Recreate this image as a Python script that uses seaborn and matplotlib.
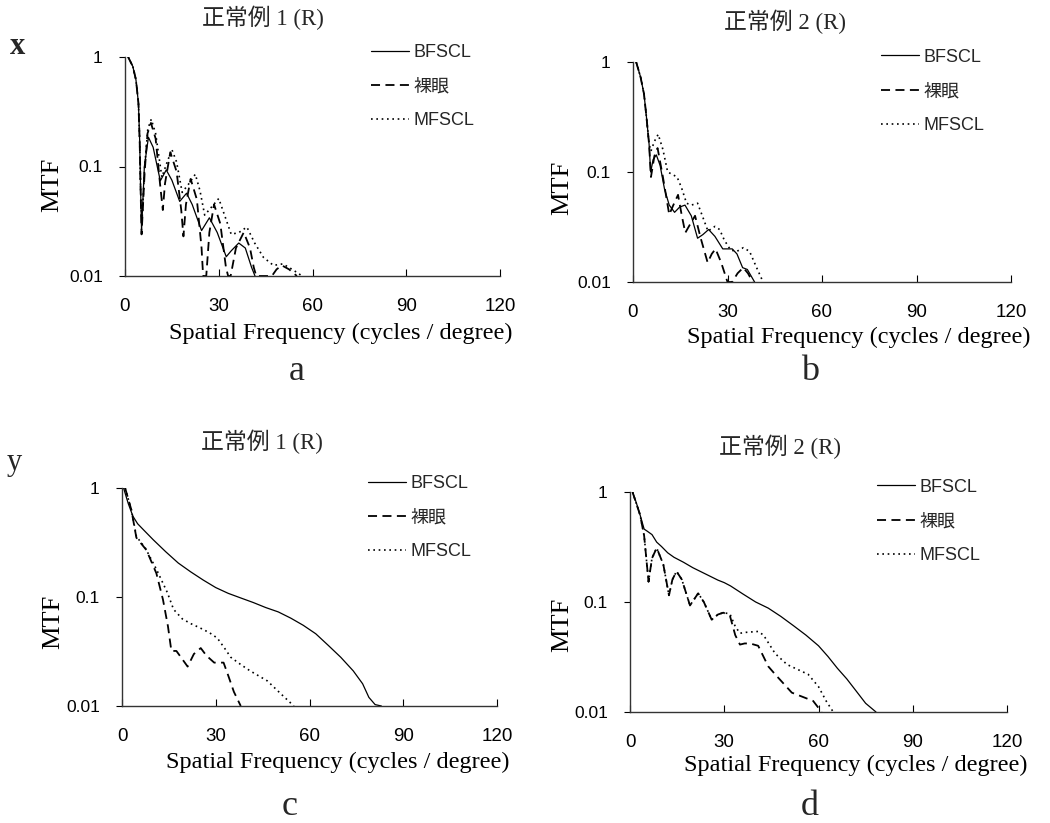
import matplotlib
matplotlib.use('Agg')
import matplotlib.pyplot as plt
import seaborn as sns
from matplotlib.ticker import NullLocator
from matplotlib.font_manager import FontProperties

# ---- data ----
labels = ['BFSCL', '裸眼', 'MFSCL']
x_ticks = [0, 30, 60, 90, 120]
y_ticks = [0.01, 0.1, 1]
y_ticklabels = ['0.01', '0.1', '1']
titles = ['正常例 1 (R)', '正常例 2 (R)', '正常例 1 (R)', '正常例 2 (R)']
letters = ['a', 'b', 'c', 'd']

# panel a
a_bfscl_f = [1, 2.5, 3.5, 4.3, 4.7, 5.0, 5.3, 6.2, 7.5, 9.0, 11.3, 13.2, 15.0, 17.5, 19.7, 21.5,
             24.5, 27.0, 29.5, 32.4, 34.0, 36.4, 38.5, 40.5, 41.6]
a_bfscl_v = [1, 0.82, 0.62, 0.38, 0.17, 0.06, 0.026, 0.1, 0.185, 0.15, 0.074, 0.093, 0.075, 0.048,
             0.057, 0.045, 0.026, 0.034, 0.025, 0.015, 0.017, 0.02, 0.018, 0.012, 0.01]
a_naked_f = [1, 2.5, 3.5, 4.3, 4.7, 5.0, 5.3, 6.3, 7.2, 8.3, 9.8, 11.2, 12.1, 12.8, 14.5, 16.5, 18.0,
             18.7, 19.5, 21.0, 23.0, 24.5, 25.0, 26.0, 27.0, 28.5, 30.5, 32.3, 33.0, 33.8, 35.5,
             38.0, 40.0, 41.2, 42.0, 47.0, 48.5, 50.2, 52.5, 55.0]
a_naked_v = [1, 0.82, 0.62, 0.38, 0.17, 0.06, 0.024, 0.09, 0.2, 0.25, 0.18, 0.07, 0.04, 0.07, 0.135,
             0.09, 0.04, 0.023, 0.045, 0.077, 0.05, 0.018, 0.01, 0.01, 0.025, 0.045, 0.03, 0.012,
             0.01, 0.01, 0.018, 0.025, 0.018, 0.012, 0.01, 0.01, 0.0115, 0.0125, 0.0115, 0.01]
a_mfscl_f = [1, 2.5, 3.5, 4.3, 4.7, 5.0, 5.4, 6.3, 7.3, 8.4, 9.8, 11.8, 13.5, 15.0, 16.5, 18.3, 20.5,
             22.5, 24.0, 25.5, 27.5, 30.0, 32.0, 34.0, 36.5, 39.0, 41.5, 44.3, 47.5, 50.5, 53.5, 56.7]
a_mfscl_v = [1, 0.82, 0.62, 0.38, 0.17, 0.06, 0.03, 0.1, 0.22, 0.27, 0.2, 0.08, 0.11, 0.143, 0.11,
             0.058, 0.07, 0.085, 0.06, 0.036, 0.042, 0.051, 0.035, 0.024, 0.025, 0.028, 0.02,
             0.0148, 0.0125, 0.0129, 0.0115, 0.01]

# panel b
b_bfscl_f = [1, 2.4, 3.5, 4.3, 5.1, 5.6, 6.4, 7.4, 8.6, 10.0, 11.5, 13.2, 14.8, 16.5, 18.5, 20.5,
             22.2, 24.0, 26.0, 28.5, 31.5, 33.0, 34.8, 36.3, 38.6]
b_bfscl_v = [1, 0.73, 0.51, 0.31, 0.18, 0.1, 0.13, 0.143, 0.115, 0.07, 0.05, 0.043, 0.048, 0.05,
             0.04, 0.025, 0.027, 0.03, 0.026, 0.02, 0.02, 0.018, 0.0135, 0.013, 0.01]
b_naked_f = [1, 2.4, 3.5, 4.3, 5.1, 5.7, 6.8, 7.8, 9.5, 11.5, 12.8, 14.3, 15.5, 16.6, 18.0, 19.7,
             21.5, 23.7, 25.0, 26.2, 28.0, 30.0, 31.5, 33.2, 35.0, 36.5, 38.0]
b_naked_v = [1, 0.73, 0.51, 0.31, 0.18, 0.09, 0.14, 0.165, 0.09, 0.041, 0.05, 0.062, 0.04, 0.028,
             0.033, 0.04, 0.025, 0.015, 0.018, 0.02, 0.015, 0.01, 0.01, 0.012, 0.0135, 0.012, 0.01]
b_mfscl_f = [1, 2.4, 3.5, 4.3, 5.1, 5.7, 6.8, 8.0, 9.5, 11.0, 12.5, 14.0, 15.4, 17.0, 18.5, 20.5,
             22.0, 23.8, 26.0, 27.5, 29.0, 31.0, 33.0, 35.0, 37.0, 39.0, 41.3]
b_mfscl_v = [1, 0.73, 0.51, 0.31, 0.18, 0.155, 0.19, 0.22, 0.16, 0.1, 0.095, 0.09, 0.072, 0.052,
             0.05, 0.052, 0.04, 0.029, 0.032, 0.03, 0.024, 0.0195, 0.019, 0.0205, 0.019, 0.014, 0.01]

# panel c
c_bfscl_f = [0.5, 2.0, 3.5, 5.0, 7.0, 10.0, 14.0, 18.0, 22.0, 26.0, 30.0, 34.0, 38.0, 42.0, 46.0,
             50.0, 54.0, 58.0, 62.0, 66.0, 70.0, 74.0, 77.0, 79.0, 81.0, 83.0]
c_bfscl_v = [1, 0.72, 0.55, 0.47, 0.41, 0.335, 0.26, 0.205, 0.17, 0.143, 0.122, 0.108, 0.098,
             0.089, 0.08, 0.073, 0.064, 0.055, 0.046, 0.036, 0.028, 0.021, 0.016, 0.012, 0.0103,
             0.01]
c_naked_f = [1.0, 3.0, 4.6, 7.8, 11.0, 13.1, 14.7, 15.8, 17.4, 21.0, 23.0, 25.2, 27.0, 29.5, 32.5,
             34.0, 35.8, 38.0]
c_naked_v = [1, 0.63, 0.35, 0.27, 0.165, 0.095, 0.054, 0.032, 0.032, 0.023, 0.03, 0.034, 0.029,
             0.025, 0.025, 0.019, 0.0135, 0.01]
c_mfscl_f = [1.0, 3.0, 4.6, 7.5, 11.0, 14.5, 16.5, 19.3, 22.0, 25.0, 28.0, 30.5, 32.8, 34.8, 38.0,
             41.0, 46.5, 51.0, 55.0]
c_mfscl_v = [1, 0.63, 0.36, 0.28, 0.18, 0.11, 0.077, 0.063, 0.057, 0.052, 0.047, 0.042, 0.034,
             0.028, 0.024, 0.021, 0.017, 0.0128, 0.01]

# panel d
d_bfscl_f = [0.8, 2.0, 3.2, 4.5, 5.5, 7.0, 8.5, 10.0, 12.0, 14.0, 17.0, 20.0, 24.0, 28.0, 30.0,
             32.0, 36.0, 40.0, 44.0, 48.0, 52.0, 56.0, 60.0, 63.0, 66.0, 69.0, 72.0, 75.0, 78.3]
d_bfscl_v = [1, 0.8, 0.62, 0.46, 0.44, 0.41, 0.35, 0.32, 0.28, 0.255, 0.23, 0.205, 0.18, 0.158,
             0.15, 0.14, 0.118, 0.1, 0.088, 0.074, 0.061, 0.05, 0.04, 0.032, 0.025, 0.02, 0.0155,
             0.012, 0.01]
d_naked_f = [0.8, 3.2, 4.5, 5.9, 7.0, 8.5, 10.6, 12.4, 13.5, 14.8, 16.5, 19.1, 21.7, 23.5, 26.0,
             28.0, 29.7, 31.8, 33.5, 35.0, 36.5, 38.2, 40.8, 44.0, 46.2, 51.5, 58.3, 61.0]
d_naked_v = [1, 0.62, 0.4, 0.153, 0.25, 0.31, 0.22, 0.115, 0.16, 0.19, 0.16, 0.093, 0.12, 0.1,
             0.069, 0.077, 0.08, 0.075, 0.05, 0.041, 0.042, 0.042, 0.04, 0.026, 0.022, 0.015,
             0.0126, 0.01]
d_mfscl_f = [0.8, 3.2, 4.5, 5.9, 7.0, 8.5, 10.6, 12.4, 13.5, 14.8, 16.5, 19.1, 21.7, 23.5, 26.0,
             28.0, 29.7, 31.8, 33.5, 35.0, 37.0, 40.8, 42.5, 46.2, 50.0, 56.7, 60.0, 62.5, 64.7]
d_mfscl_v = [1, 0.62, 0.4, 0.153, 0.25, 0.31, 0.22, 0.115, 0.16, 0.19, 0.16, 0.093, 0.12, 0.1,
             0.069, 0.077, 0.08, 0.078, 0.06, 0.052, 0.053, 0.054, 0.05, 0.034, 0.027, 0.022,
             0.017, 0.0125, 0.01]

series = [
    [(a_bfscl_f, a_bfscl_v), (a_naked_f, a_naked_v), (a_mfscl_f, a_mfscl_v)],
    [(b_bfscl_f, b_bfscl_v), (b_naked_f, b_naked_v), (b_mfscl_f, b_mfscl_v)],
    [(c_bfscl_f, c_bfscl_v), (c_naked_f, c_naked_v), (c_mfscl_f, c_mfscl_v)],
    [(d_bfscl_f, d_bfscl_v), (d_naked_f, d_naked_v), (d_mfscl_f, d_mfscl_v)],
]

# ---- layout (pixel boxes of the four plots) ----
W, H = 1050, 823
boxes = [(125, 57, 500, 276), (633, 62, 1011, 282), (122, 488, 497, 706), (630, 492, 1007, 712)]
title_pos = [(263, 18), (785, 22), (262, 442), (780, 447)]
letter_pos = [(297, 380), (810, 380), (290, 815), (810, 815)]
xlabel_pos = [(341, 333), (859, 337), (338, 762), (856, 765)]
ylabel_pos = [(52, 185), (562, 188), (53, 622), (562, 625)]

sns.set_theme(style='white')
plt.rcParams['font.family'] = ['Liberation Sans', 'Noto Sans CJK JP']
serif = ['Liberation Serif', 'Noto Sans CJK JP']
sans = ['Liberation Sans', 'Noto Sans CJK JP']

fig = plt.figure(figsize=(10.5, 8.23), dpi=100)

styles = [dict(lw=0.9, dash=None), dict(lw=1.3, dash=(5, 3)), dict(lw=1.2, dash=(1, 2.2))]

for i, (l, t, r, b) in enumerate(boxes):
    ax = fig.add_axes([l / W, 1 - b / H, (r - l) / W, (b - t) / H])
    for (f, v), name, st in zip(series[i], labels, styles):
        sns.lineplot(x=f, y=v, ax=ax, color='black', linewidth=st['lw'], label=name,
                     estimator=None, sort=False)
        if st['dash'] is not None:
            ax.lines[-1].set_dashes(st['dash'])
    ax.set_yscale('log')
    ax.set_xlim(0, 120)
    ax.set_ylim(0.01, 1)
    ax.set_xticks(x_ticks)
    ax.set_xticklabels([str(x) for x in x_ticks])
    ax.set_yticks(y_ticks)
    ax.set_yticklabels(y_ticklabels)
    ax.yaxis.set_minor_locator(NullLocator())
    ax.tick_params(axis='x', direction='in', length=5, width=0.8, pad=16, labelsize=13.5,
                   colors='black', bottom=True)
    ax.tick_params(axis='y', direction='out', length=4, width=0.8, pad=12, labelsize=12.5,
                   colors='black', left=True)
    sns.despine(ax=ax)
    for s in ['left', 'bottom']:
        ax.spines[s].set_color('#333333')
        ax.spines[s].set_linewidth(1.0)

    # axis labels
    bx, by = xlabel_pos[i]
    ax.set_xlabel('Spatial Frequency (cycles / degree)', family=serif, fontsize=17.5, color='black')
    ax.xaxis.set_label_coords((bx - l) / (r - l), (b - by) / (b - t))
    ax.xaxis.label.set_va('center')
    lx, ly = ylabel_pos[i]
    ax.set_ylabel('MTF', family=serif, fontsize=19, color='black')
    ax.yaxis.set_label_coords((lx - l) / (r - l), (b - ly) / (b - t))
    ax.yaxis.label.set_va('center')

    ax.legend(loc='upper left', bbox_to_anchor=(0.655, 1.06), frameon=False,
              handlelength=2.1, handletextpad=0.25, labelspacing=0.95, borderpad=0,
              borderaxespad=0, prop=FontProperties(family=sans, size=13))

    tx, ty = title_pos[i]
    fig.text(tx / W, 1 - ty / H, titles[i], family=serif, fontsize=16.5, ha='center', va='center')
    px, py = letter_pos[i]
    fig.text(px / W, 1 - py / H, letters[i], family=serif, fontsize=26, ha='center',
             va='baseline')

fig.text(18 / W, 1 - 47 / H, 'x', family=serif, fontsize=22, fontweight='bold',
         ha='center', va='center')
fig.text(14 / W, 1 - 462 / H, 'y', family=serif, fontsize=22, ha='center', va='center')

fig.savefig('out.png', dpi=100)
